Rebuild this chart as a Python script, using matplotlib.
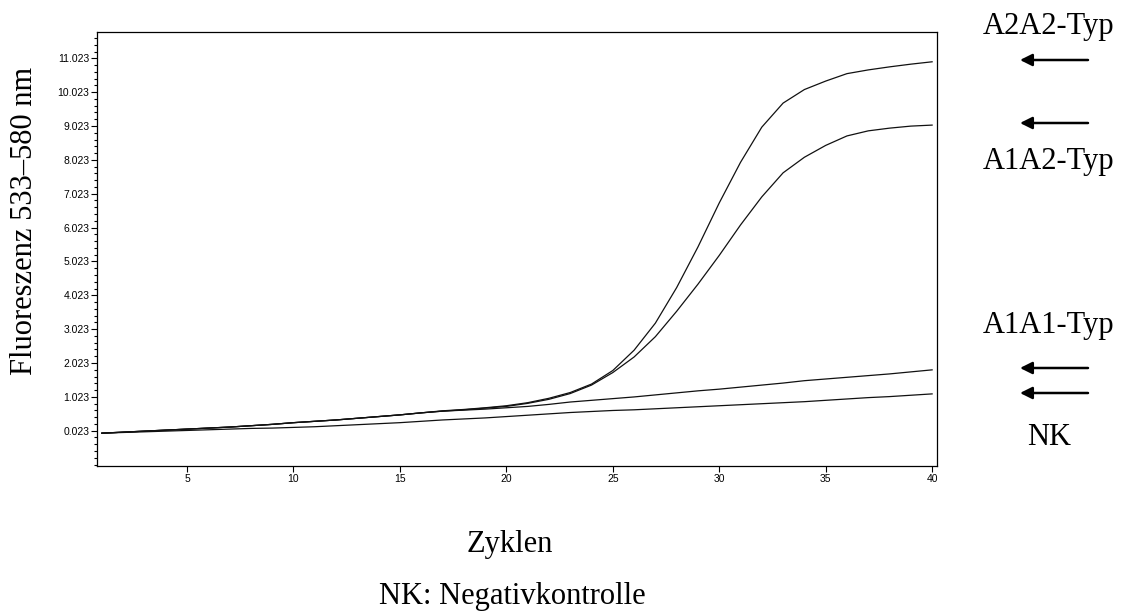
import numpy as np
import matplotlib
matplotlib.use("Agg")
import matplotlib.pyplot as plt
from matplotlib.ticker import FixedLocator

# -----------------------------
# Fluorescence per cycle
# -----------------------------
cycles = list(range(1, 41))

a2a2 = [-0.05, -0.02, 0.01, 0.04, 0.07, 0.10, 0.13, 0.17, 0.21, 0.26,
        0.30, 0.34, 0.39, 0.44, 0.49, 0.55, 0.61, 0.65, 0.70, 0.76,
        0.85, 0.98, 1.15, 1.40, 1.80, 2.40, 3.20, 4.25, 5.45, 6.75,
        7.95, 8.99, 9.70, 10.10, 10.35, 10.57, 10.68, 10.77, 10.85, 10.92]

a1a2 = [-0.05, -0.02, 0.01, 0.04, 0.07, 0.10, 0.13, 0.17, 0.21, 0.26,
        0.30, 0.34, 0.39, 0.44, 0.49, 0.55, 0.60, 0.64, 0.69, 0.74,
        0.83, 0.95, 1.12, 1.37, 1.74, 2.20, 2.80, 3.55, 4.35, 5.20,
        6.10, 6.93, 7.64, 8.10, 8.45, 8.73, 8.88, 8.96, 9.02, 9.05]

a1a1 = [-0.05, -0.02, 0.01, 0.04, 0.07, 0.10, 0.13, 0.17, 0.21, 0.26,
        0.30, 0.34, 0.39, 0.44, 0.49, 0.55, 0.60, 0.63, 0.66, 0.70,
        0.74, 0.80, 0.87, 0.92, 0.97, 1.02, 1.08, 1.14, 1.20, 1.25,
        1.31, 1.37, 1.43, 1.50, 1.55, 1.60, 1.65, 1.70, 1.76, 1.82]

nk = [-0.05, -0.03, -0.01, 0.01, 0.03, 0.05, 0.07, 0.09, 0.10, 0.12,
      0.14, 0.17, 0.20, 0.23, 0.26, 0.30, 0.34, 0.37, 0.40, 0.44,
      0.48, 0.52, 0.56, 0.59, 0.62, 0.64, 0.67, 0.70, 0.73, 0.76,
      0.79, 0.82, 0.85, 0.88, 0.92, 0.96, 1.00, 1.03, 1.07, 1.11]

x_ticks = [5, 10, 15, 20, 25, 30, 35, 40]
y_ticks = [0.023 + k for k in range(12)]
y_labels = [f"{v:.3f}" for v in y_ticks]
y_minor = [0.023 + 0.2 * k for k in range(-5, 60)]

# right-hand annotations: (text, baseline y in figure px)
type_labels = [("A2A2-Typ", 34), ("A1A2-Typ", 169), ("A1A1-Typ", 333), ("NK", 445)]
arrow_rows = [60, 123, 368, 393]

W, H = 1128, 614
fig = plt.figure(figsize=(W / 100, H / 100), dpi=100)
ax = fig.add_axes([97 / W, 1 - 466 / H, (937 - 97) / W, (466 - 32) / H])

for series in (a2a2, a1a2, a1a1, nk):
    ax.plot(cycles, series, color="#111111", lw=0.9)

ax.set_xlim(0.77, 40.23)
ax.set_ylim(-1.02, 11.80)

tick_font = {"family": "Liberation Sans", "size": 7.5}
ax.set_xticks(x_ticks)
ax.set_xticklabels([str(t) for t in x_ticks], fontdict=tick_font)
ax.yaxis.set_major_locator(FixedLocator(y_ticks))
ax.set_yticklabels(y_labels, fontdict=tick_font)
ax.yaxis.set_minor_locator(FixedLocator(y_minor))
ax.tick_params(axis="both", which="major", direction="out", length=4, width=0.8, pad=1.5)
ax.tick_params(axis="y", which="minor", direction="out", length=2, width=0.8)
for sp in ax.spines.values():
    sp.set_linewidth(0.9)

serif = {"family": "Liberation Serif", "size": 22}

fig.text(25 / W, 1 - 221 / H, "Fluoreszenz 533\u2013580 nm", rotation=90,
         ha="center", va="center", **serif)
fig.text(510 / W, 1 - 552 / H, "Zyklen", ha="center", va="baseline", **serif)
fig.text(512 / W, 1 - 604 / H, "NK: Negativkontrolle", ha="center", va="baseline", **serif)

for text, yb in type_labels:
    fig.text(1049 / W, 1 - yb / H, text, ha="center", va="baseline", **serif)

for yr in arrow_rows:
    fig.add_artist(plt.Annotation(
        "", xy=(1020 / W, 1 - yr / H), xytext=(1088 / W, 1 - yr / H),
        xycoords="figure fraction", textcoords="figure fraction",
        arrowprops=dict(arrowstyle="-|>", color="black", lw=1.8,
                        mutation_scale=18, shrinkA=0, shrinkB=0)))

fig.savefig("out.png", dpi=100)
